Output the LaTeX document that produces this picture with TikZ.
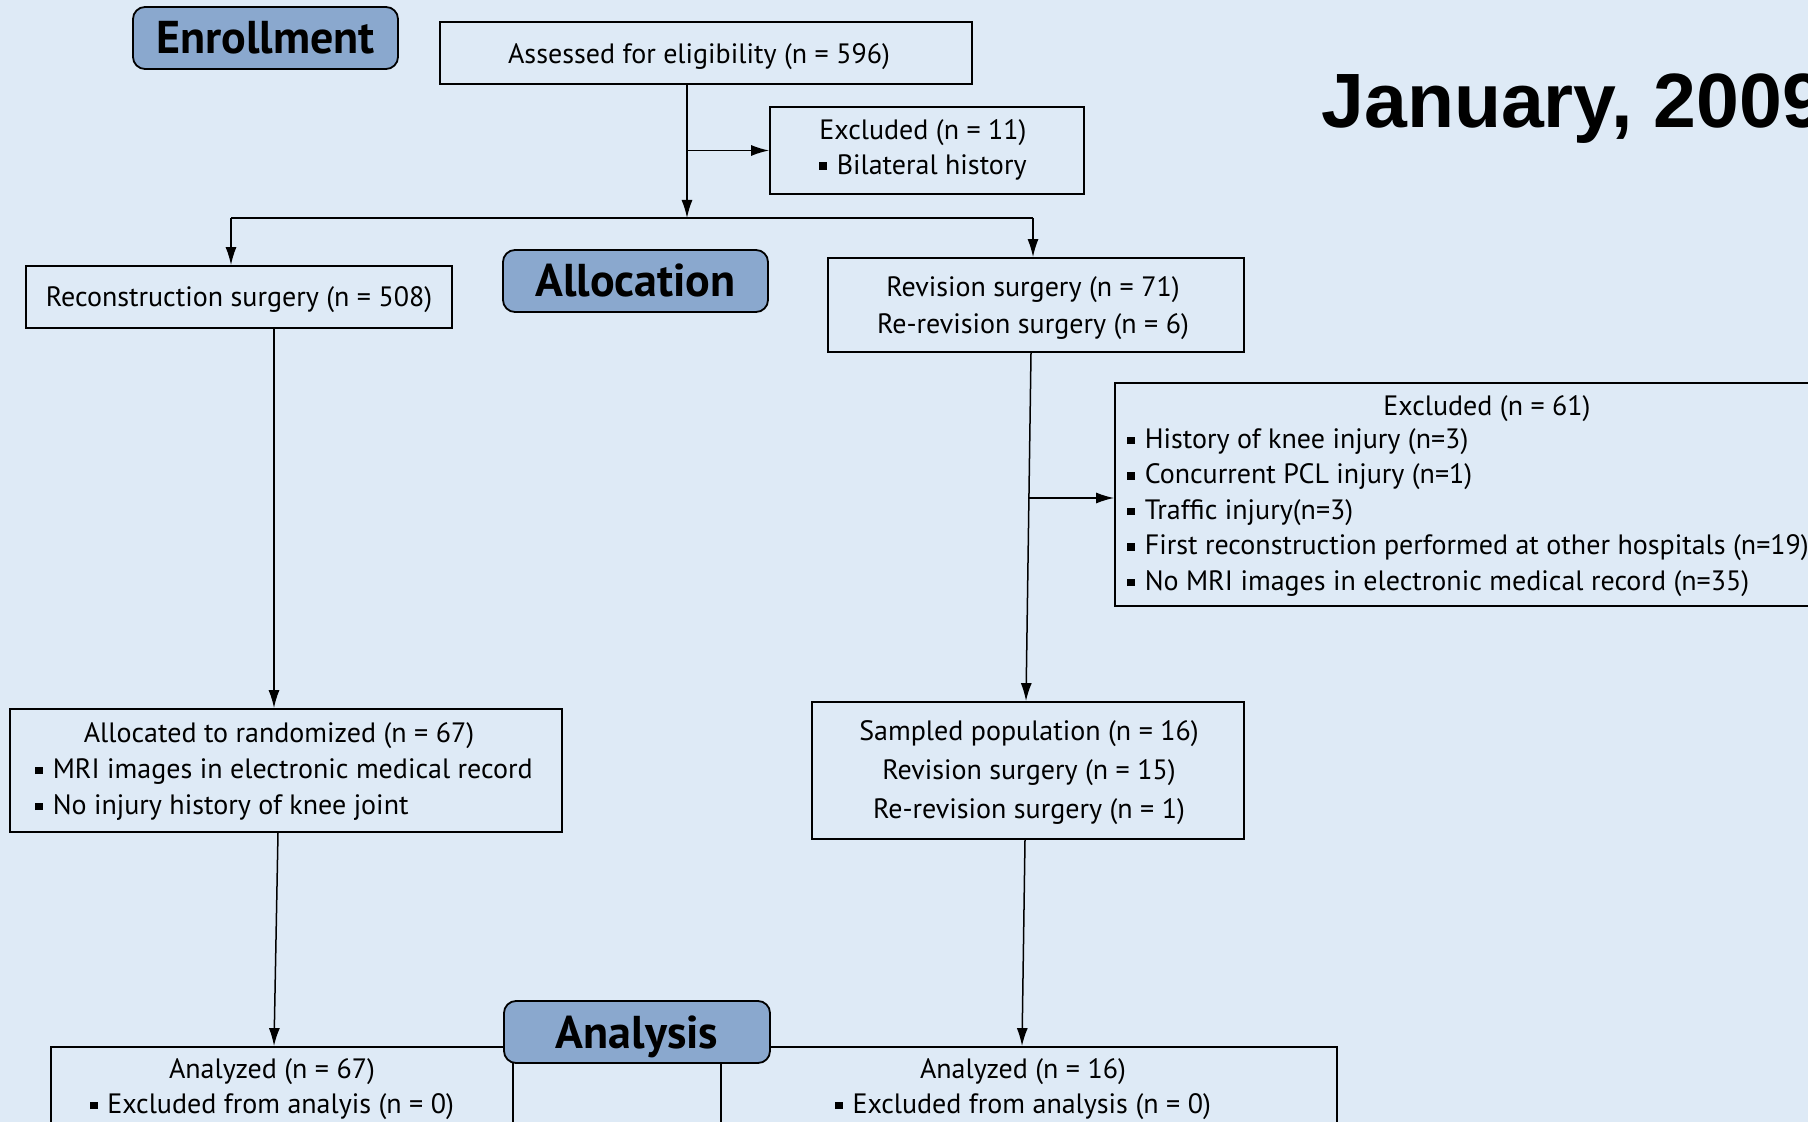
\documentclass[tikz,border=0pt]{standalone}
\usepackage{fontspec}
\setmainfont{PT Sans}
\newfontfamily\datefont{Liberation Sans}
\usetikzlibrary{arrows.meta, fit}

\definecolor{pagebg}{RGB}{222,234,246}
\definecolor{phasebg}{RGB}{138,168,206}

% small square bullet
\newcommand{\sqbul}{\raisebox{0.3ex}{\rule{0.27em}{0.27em}}\hspace{0.35em}}

\begin{document}
\begin{tikzpicture}[x=0.5pt, y=-0.5pt,
	box/.style={draw, line width=0.9pt, inner sep=0pt},
	phase/.style={draw, line width=0.9pt, fill=phasebg, rounded corners=6pt, inner sep=0pt},
	phasetxt/.style={inner sep=0pt, text height=16pt, text depth=0pt, font=\bfseries\fontsize{23}{26}\selectfont},
	txt/.style={font=\fontsize{14}{17.5}\selectfont, inner sep=0pt, align=center, yshift=-1.75pt},
	arr/.style={-{Latex[length=9pt, width=5.5pt]}, line width=0.75pt}]
	%%% Page
	\useasboundingbox (0,0) rectangle (1808,1122);
	\fill[pagebg] (0,0) rectangle (1808,1122);
	\clip (0,0) rectangle (1808,1122);
	%%% Boxes
	\node[box, fit={(440,22) (972,84)}] (assess) {};
	\node[txt] (assesst) at (699,53) {Assessed for eligibility (n = 596)};
	\node[box, fit={(770,107) (1084,194)}] (excl11) {};
	\node[txt] (excl11t) at (923,146) {Excluded (n = 11)\\ \sqbul Bilateral history};
	\node[box, fit={(26,266) (452,328)}] (recon) {};
	\node[txt] (recont) at (239,296) {Reconstruction surgery (n = 508)};
	\node[box, fit={(828,258) (1244,352)}] (revis) {};
	\node[txt, font=\fontsize{14}{18.5}\selectfont] (revist) at (1033,304.5)
		{Revision surgery (n = 71)\\ Re-revision surgery (n = 6)};
	\node[box, fit={(1115,383) (1880,606)}] (excl61) {};
	\node[txt] (excl61h) at (1487,405) {Excluded (n = 61)};
	\node[txt, align=left, anchor=west, font=\fontsize{14}{17.75}\selectfont] (excl61l) at (1127,509)
		{\sqbul History of knee injury (n=3)\\
		 \sqbul Concurrent PCL injury (n=1)\\
		 \sqbul Traffic injury(n=3)\\
		 \sqbul First reconstruction performed at other hospitals (n=19)\\
		 \sqbul No MRI images in electronic medical record (n=35)};
	\node[box, fit={(10,709) (562,832)}] (alloc) {};
	\node[txt] (alloch) at (279,732) {Allocated to randomized (n = 67)};
	\node[txt, align=left, anchor=west, font=\fontsize{14}{18}\selectfont] (allocl) at (35,786)
		{\sqbul MRI images in electronic medical record\\
		 \sqbul No injury history of knee joint};
	\node[box, fit={(812,702) (1244,839)}] (sampl) {};
	\node[txt, font=\fontsize{14}{19.5}\selectfont] (samplt) at (1029,769)
		{Sampled population (n = 16)\\ Revision surgery (n = 15)\\ Re-revision surgery (n = 1)};
	\node[box, fit={(51,1047) (513,1160)}] (anlL) {};
	\node[box, fit={(721,1047) (1337,1160)}] (anlR) {};
	\node[txt] (anlLt) at (272,1085.5) {Analyzed (n = 67)\\ \sqbul Excluded from analyis (n = 0)};
	\node[txt] (anlRt) at (1023,1085.5) {Analyzed (n = 16)\\ \sqbul Excluded from analysis (n = 0)};
	%%% Phases
	\node[phase, fit={(133,7) (398,69)}] (enrol) {};
	\node[phasetxt] (enrolt) at (enrol) {Enrollment};
	\node[phase, fit={(503,250) (768,312)}] (allocph) {};
	\node[phasetxt] (allocpht) at (allocph) {Allocation};
	\node[phase, fit={(504,1001) (770,1063)}] (analph) {};
	\node[phasetxt] (analpht) at (analph) {Analysis};
	%%% Date
	\node[anchor=base west, inner sep=0pt, font=\datefont\bfseries\fontsize{38.5}{40}\selectfont]
		(date) at (1321,128) {January, 2009};
	%%% Arrows
	\coordinate (split) at (687,218);
	\coordinate (lsplit) at (231,218);
	\coordinate (rsplit) at (1033,218);
	\coordinate (rjoin) at (1029,498);
	\draw[arr] (split |- assess.south) -- (split);
	\draw[arr] (split |- excl11.west) -- (excl11.west);
	\draw[line width=0.75pt] (lsplit) -- (rsplit);
	\draw[arr] (lsplit) -- (lsplit |- recon.north);
	\draw[arr] (rsplit) -- (rsplit |- revis.north);
	\draw[arr] ([xshift=17.5pt]recon.south) -- ([xshift=-6pt]alloc.north);
	\draw[arr] ([xshift=-2.5pt]revis.south) -- ([xshift=-1pt]sampl.north);
	\draw[arr] (rjoin) -- (rjoin -| excl61.west);
	\draw[arr] ([xshift=-4pt]alloc.south) -- ([xshift=-4pt]anlL.north);
	\draw[arr] ([xshift=-1.5pt]sampl.south) -- ([xshift=-3.5pt]anlR.north);
\end{tikzpicture}
\end{document}
